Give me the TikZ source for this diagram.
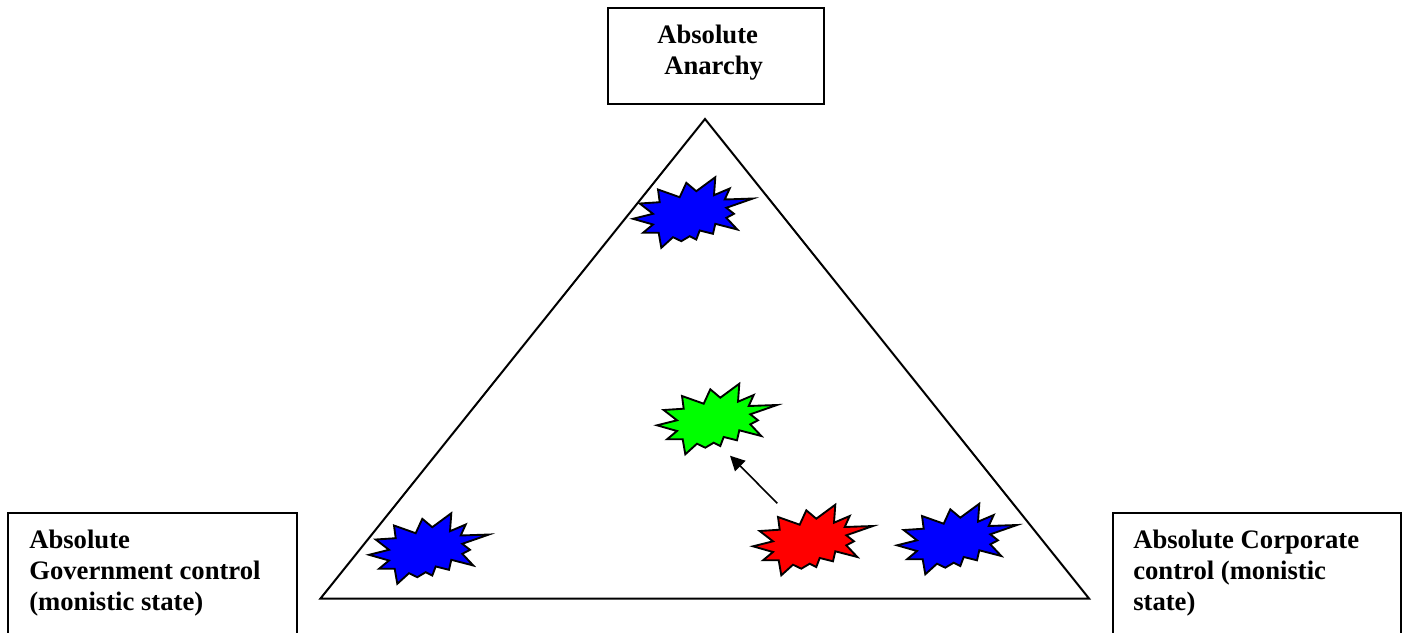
\documentclass[tikz,border=0pt]{standalone}
\usepackage{fontspec}
\setmainfont{Liberation Serif}
\usetikzlibrary{arrows.meta}
\tikzset{
  boxline/.style={draw=black, line width=1.5pt},
  burstline/.style={draw=black, line width=1.4pt, line join=miter},
  lbl/.style={anchor=base west, inner sep=0pt, font=\fontsize{20}{23}\selectfont\bfseries},
  pics/burst/.style={code={
    \draw[burstline, fill=#1] (-60,6.3) -- (-40,1.3) -- (-53.3,-9) -- (-33.3,-10.3) -- (-35,-23)
      -- (-13.3,-15.3) -- (-6.7,-29.7) -- (3.3,-21.3) -- (22.3,-35.3) -- (21,-17.3)
      -- (36.7,-24) -- (31.7,-13) -- (60,-14) -- (33.3,-4.7) -- (41,1.3) -- (33.3,5.3)
      -- (44.3,17) -- (22.3,11.3) -- (20,21.3) -- (6.7,18) -- (3.3,27) -- (-3.3,23.7)
      -- (-11.7,28.7) -- (-20,24.7) -- (-31.7,35.3) -- (-34.3,20.3) -- (-50,20.3)
      -- (-40,12) -- cycle;
  }}
}
\begin{document}
\begin{tikzpicture}[x=0.75pt, y=-0.75pt]
\useasboundingbox (0,0) rectangle (1403,632);
% boxes
\draw[boxline] (608,8) rectangle (824,104);
\draw[boxline] (8,640) -- (8,513) -- (297,513) -- (297,640);
\draw[boxline] (1113,640) -- (1113,513) -- (1401,513) -- (1401,640);
% texts
\node[lbl] (t1) at (657,43) {Absolute};
\node[lbl] (t2) at (664,74) {Anarchy};
\node[lbl] (l1) at (29,548) {Absolute};
\node[lbl] (l2) at (29,579) {Government control};
\node[lbl] (l3) at (29,610) {(monistic state)};
\node[lbl] (r1) at (1133,548) {Absolute Corporate};
\node[lbl] (r2) at (1133,579) {control (monistic};
\node[lbl] (r3) at (1133,610) {state)};
% triangle
\coordinate (apex) at (705,119);
\coordinate (bl) at (320.5,598.5);
\coordinate (br) at (1089,598.5);
\draw[boxline, line join=miter] (apex) -- (bl) -- (br) -- cycle;
% bursts
\pic at (693,212.5) {burst=blue};
\pic at (717,419) {burst=green};
\pic at (813,540) {burst=red};
\pic at (429,548.5) {burst=blue};
\pic at (957,539) {burst=blue};
% arrow
\coordinate (atail) at (777.3,503.3);
\coordinate (ahead) at (730,455.7);
\draw[line width=1.2pt, -{Triangle[length=11pt, width=11pt]}] (atail) -- (ahead);
\end{tikzpicture}
\end{document}
